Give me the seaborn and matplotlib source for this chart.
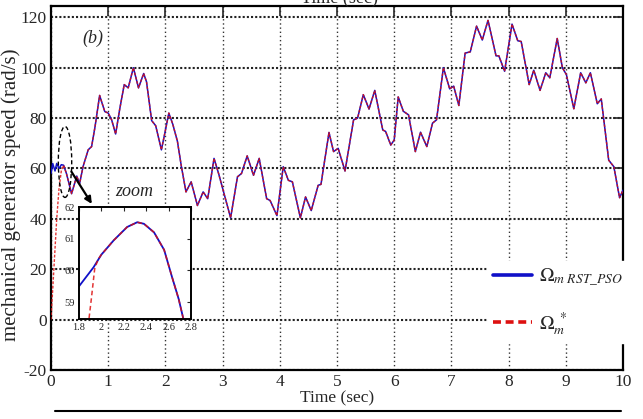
import numpy as np
import pandas as pd
import matplotlib
matplotlib.use("Agg")
import matplotlib.pyplot as plt
import seaborn as sns
from matplotlib.patches import Ellipse
from matplotlib.lines import Line2D

# ---------------- data ----------------
time_s = [0.0, 0.03, 0.07, 0.10, 0.14, 0.18, 0.22, 0.27, 0.36, 0.45, 0.50, 0.56,
          0.65, 0.71, 0.77, 0.85, 0.94, 1.00, 1.06, 1.13, 1.20, 1.28, 1.35, 1.44,
          1.53, 1.62, 1.67, 1.76, 1.83, 1.93, 1.99, 2.06, 2.13, 2.21, 2.28, 2.36,
          2.45, 2.56, 2.66, 2.74, 2.85, 2.93, 3.01, 3.14, 3.26, 3.33, 3.43, 3.54,
          3.64, 3.77, 3.83, 3.95, 4.06, 4.15, 4.22, 4.36, 4.45, 4.55, 4.67, 4.72,
          4.86, 4.94, 5.02, 5.14, 5.29, 5.36, 5.46, 5.56, 5.66, 5.80, 5.85, 5.94,
          6.00, 6.07, 6.16, 6.25, 6.37, 6.46, 6.57, 6.67, 6.74, 6.86, 6.97, 7.04,
          7.13, 7.24, 7.33, 7.44, 7.54, 7.64, 7.78, 7.83, 7.93, 8.06, 8.16, 8.22,
          8.36, 8.44, 8.55, 8.65, 8.72, 8.85, 8.94, 9.01, 9.14, 9.26, 9.35, 9.43,
          9.55, 9.62, 9.75, 9.84, 9.94, 10.0]

omega_rst_pso = [58.0, 62.0, 59.0, 62.0, 60.0, 61.5, 61.3, 58.0, 50.0, 57.0, 54.0, 60.7,
                 67.4, 68.7, 76.6, 89.0, 82.6, 82.0, 79.3, 73.7, 83.4, 93.3, 92.0, 100.0,
                 92.0, 97.7, 94.4, 79.0, 77.0, 67.4, 74.0, 82.0, 77.5, 70.8, 60.7, 50.7,
                 54.7, 45.3, 50.7, 48.0, 64.0, 58.0, 51.3, 40.4, 56.7, 58.0, 65.0, 57.3,
                 64.0, 48.0, 47.3, 41.3, 60.7, 55.3, 54.7, 40.4, 48.7, 43.3, 53.3, 53.7,
                 74.3, 66.7, 68.0, 59.0, 79.3, 80.0, 89.3, 83.6, 91.0, 75.3, 74.7, 69.3,
                 71.3, 88.4, 82.7, 81.3, 66.7, 74.4, 68.7, 78.0, 79.3, 100.0, 91.6, 92.7,
                 85.0, 105.8, 106.3, 116.5, 111.0, 118.8, 104.7, 104.7, 98.6, 117.3, 110.7, 110.4,
                 93.3, 99.0, 91.0, 98.0, 96.0, 111.6, 100.0, 97.3, 83.7, 98.0, 94.0, 98.0,
                 85.7, 87.6, 63.3, 60.7, 48.4, 51.4]

omega_ref_start = [0.0, 12.0, 28.0, 40.0, 52.0, 59.0]
omega_ref = omega_ref_start + omega_rst_pso[len(omega_ref_start):]

# zoom inset
zoom_t_rst = [1.80, 1.93, 2.00, 2.11, 2.23, 2.32, 2.38, 2.47, 2.56, 2.63, 2.69, 2.73]
zoom_rst = [59.5, 60.1, 60.5, 60.95, 61.37, 61.52, 61.47, 61.2, 60.65, 59.8, 59.1, 58.5]
zoom_t_ref = [1.89, 1.91, 1.94, 1.97, 2.00, 2.11, 2.23, 2.32, 2.38, 2.47, 2.56, 2.63, 2.69, 2.73]
zoom_ref = [58.5, 59.1, 60.05, 60.35, 60.5, 60.95, 61.37, 61.52, 61.47, 61.2, 60.65, 59.8, 59.1, 58.5]

x_ticks = [0, 1, 2, 3, 4, 5, 6, 7, 8, 9, 10]
y_ticks = [-20, 0, 20, 40, 60, 80, 100, 120]
zoom_x_ticks = [1.8, 2.0, 2.2, 2.4, 2.6, 2.8]
zoom_x_labels = ["1.8", "2", "2.2", "2.4", "2.6", "2.8"]
zoom_y_ticks = [59, 60, 61, 62]

# ---------------- style ----------------
sns.set_style("white")
plt.rcParams["font.family"] = ["Liberation Serif", "DejaVu Serif"]
plt.rcParams["mathtext.fontset"] = "stix"
plt.rcParams["axes.unicode_minus"] = False
BLUE = "#1010c8"
RED = "#dd1010"

fig = plt.figure(figsize=(6.43, 4.19), dpi=100)
ax = fig.add_axes([51 / 643, (419 - 370) / 419, 572 / 643, 364 / 419])

df = pd.DataFrame({"t": time_s, "rst": omega_rst_pso, "ref": omega_ref})
sns.lineplot(data=df, x="t", y="rst", ax=ax, color=BLUE, lw=1.1, sort=False,
             estimator=None, zorder=3)
sns.lineplot(data=df, x="t", y="ref", ax=ax, color=RED, lw=1.0, sort=False,
             estimator=None, ls=(0, (2, 1.2)), alpha=0.85, zorder=4)

ax.set_xlim(0, 10)
ax.set_ylim(-20, 124.5)
ax.set_xticks(x_ticks)
ax.set_yticks(y_ticks)
ax.tick_params(direction="in", top=True, right=True, length=7, width=1.2,
               labelsize=12.5, pad=3)
for s in ax.spines.values():
    s.set_linewidth(1.6)
    s.set_color("black")
ax.yaxis.grid(True, color="#222222", ls=(0, (1, 1)), lw=1.5)
ax.xaxis.grid(True, color="#333333", ls=(0, (1, 2)), lw=1.0)
ax.set_axisbelow(True)
ax.set_xlabel("Time (sec)", fontsize=12.5, labelpad=0)
ax.set_ylabel("")
fig.text(11 / 643, 1 - 195 / 419, "mechanical generator speed (rad/s)",
         rotation=90, ha="center", va="center", fontsize=15)

ax.text(0.55, 110, "(b)", fontsize=13, style="italic")

# dashed ellipse and arrow
ax.add_patch(Ellipse((0.245, 62.6), 0.234, 28.2, fill=False, ls=(0, (3, 2)),
                     lw=1.0, ec="black", zorder=5))
ax.annotate("", xy=(0.74, 45.0), xytext=(0.33, 59.7),
            arrowprops=dict(arrowstyle="-|>", color="black", lw=1.6,
                            mutation_scale=10), zorder=6)
ax.text(1.45, 51, "zoom", fontsize=13, style="italic", ha="center", va="center")

# legend
handles = [Line2D([], [], color=BLUE, lw=2.6),
           Line2D([], [], color=RED, lw=2.6, ls=(0, (2.2, 1.3)))]
labels = [r"$\Omega_{m\ \mathit{RST\_PSO}}$", r"$\Omega_{m}^{\ *}$"]
leg = ax.legend(handles, labels, loc="upper left", bbox_to_anchor=(0.762, 0.30),
                frameon=True, fancybox=False, edgecolor="white", framealpha=1,
                fontsize=14, handlelength=2.0, handletextpad=0.4,
                labelspacing=1.1, borderpad=0.3, borderaxespad=0)

# inset
axins = fig.add_axes([79 / 643, (419 - 319) / 419, 112 / 643, 112 / 419])
axins.set_facecolor("white")
dz1 = pd.DataFrame({"t": zoom_t_rst, "v": zoom_rst})
dz2 = pd.DataFrame({"t": zoom_t_ref, "v": zoom_ref})
sns.lineplot(data=dz1, x="t", y="v", ax=axins, color=BLUE, lw=1.3, sort=False,
             estimator=None)
sns.lineplot(data=dz2, x="t", y="v", ax=axins, color=RED, lw=1.1, sort=False,
             estimator=None, ls=(0, (3, 2)), alpha=0.85)
axins.set_xlim(1.8, 2.8)
axins.set_ylim(58.47, 62)
axins.set_xticks(zoom_x_ticks)
axins.set_xticklabels(zoom_x_labels)
axins.set_yticks(zoom_y_ticks)
axins.set_xlabel("")
axins.set_ylabel("")
axins.tick_params(direction="in", top=True, right=True, length=3, width=0.8,
                  labelsize=7.5, pad=3)
for s in axins.spines.values():
    s.set_linewidth(1.4)
    s.set_color("black")

# top clipped label and bottom rule
fig.text(340 / 643, (419 - 3) / 419, "Time (sec)", ha="center", va="baseline",
         fontsize=13)
fig.add_artist(Line2D([55 / 643, 621 / 643], [(419 - 411) / 419] * 2,
                      transform=fig.transFigure, color="black", lw=1.5))

fig.savefig("out.png", dpi=100)
